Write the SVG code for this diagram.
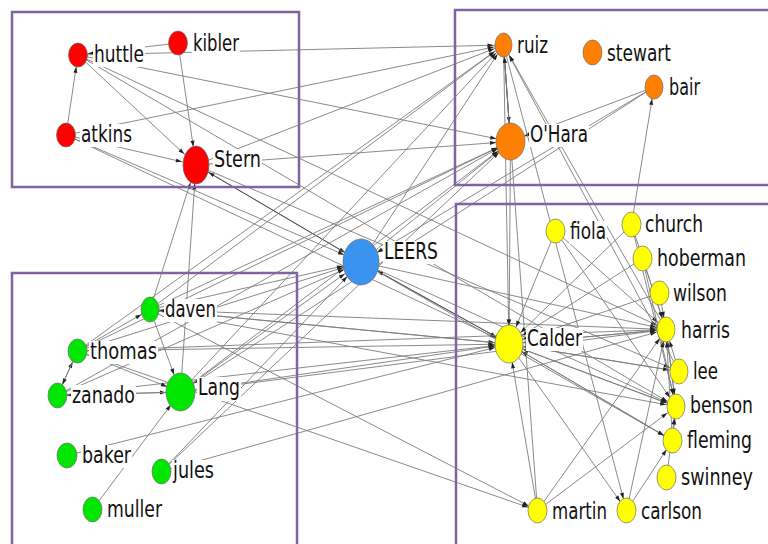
<svg xmlns="http://www.w3.org/2000/svg" width="768" height="544" viewBox="0 0 768 544">
<style>
.e line{stroke:#7d7d7d;stroke-width:0.9;fill:none}
.s1{marker-end:url(#s1)}.s2{marker-end:url(#s2)}.s3{marker-end:url(#s3)}
.m1{marker-end:url(#m1)}.m2{marker-end:url(#m2)}.m3{marker-end:url(#m3)}
.L1{marker-end:url(#L1)}.L2{marker-end:url(#L2)}
.box{fill:none;stroke:#8064A2;stroke-width:2.5}
.n ellipse{stroke:#6b6b6b;stroke-width:0.7}
.r ellipse{fill:#FF0000}.o ellipse{fill:#FF8000}.g ellipse{fill:#00E600}.y ellipse{fill:#FFFF00}.b ellipse{fill:#3B93F0}
.n rect{fill:#fff}
.n text{font-family:"DejaVu Sans","Liberation Sans",sans-serif;font-size:23px;fill:#111}
</style>
<defs>
<marker id="s1" markerUnits="userSpaceOnUse" markerWidth="6" markerHeight="6" refX="16" refY="3" orient="auto" overflow="visible"><path d="M0,1 L6,3 L0,5z" fill="#222"/></marker>
<marker id="s2" markerUnits="userSpaceOnUse" markerWidth="6" markerHeight="6" refX="17" refY="3" orient="auto" overflow="visible"><path d="M0,1 L6,3 L0,5z" fill="#222"/></marker>
<marker id="s3" markerUnits="userSpaceOnUse" markerWidth="6" markerHeight="6" refX="18" refY="3" orient="auto" overflow="visible"><path d="M0,1 L6,3 L0,5z" fill="#222"/></marker>
<marker id="m1" markerUnits="userSpaceOnUse" markerWidth="6" markerHeight="6" refX="20.5" refY="3" orient="auto" overflow="visible"><path d="M0,1 L6,3 L0,5z" fill="#222"/></marker>
<marker id="m2" markerUnits="userSpaceOnUse" markerWidth="6" markerHeight="6" refX="22" refY="3" orient="auto" overflow="visible"><path d="M0,1 L6,3 L0,5z" fill="#222"/></marker>
<marker id="m3" markerUnits="userSpaceOnUse" markerWidth="6" markerHeight="6" refX="24.5" refY="3" orient="auto" overflow="visible"><path d="M0,1 L6,3 L0,5z" fill="#222"/></marker>
<marker id="L1" markerUnits="userSpaceOnUse" markerWidth="6" markerHeight="6" refX="24.5" refY="3" orient="auto" overflow="visible"><path d="M0,1 L6,3 L0,5z" fill="#222"/></marker>
<marker id="L2" markerUnits="userSpaceOnUse" markerWidth="6" markerHeight="6" refX="26" refY="3" orient="auto" overflow="visible"><path d="M0,1 L6,3 L0,5z" fill="#222"/></marker>
</defs>
<rect width="768" height="544" fill="#fff"/>
<g id="connectors" class="e">
<line class="s1" x1="178" y1="43" x2="78" y2="55"/>
<line class="s1" x1="78" y1="55" x2="503.5" y2="45"/>
<line class="s3" x1="66" y1="135" x2="78" y2="55"/>
<line class="m3" x1="178" y1="43" x2="196" y2="165"/>
<line class="m1" x1="66" y1="135" x2="196" y2="165"/>
<line class="m2" x1="78" y1="55" x2="196" y2="165"/>
<line class="m1" x1="78" y1="55" x2="510.5" y2="141.5"/>
<line class="s1" x1="78" y1="55" x2="666" y2="329.5"/>
<line class="s1" x1="78" y1="55" x2="676" y2="406.5"/>
<line class="s1" x1="66" y1="135" x2="503.5" y2="45"/>
<line class="L1" x1="66" y1="135" x2="361" y2="262"/>
<line class="m1" x1="66" y1="135" x2="509" y2="344"/>
<line class="s1" x1="196" y1="165" x2="503.5" y2="45"/>
<line class="m1" x1="196" y1="165" x2="510.5" y2="141.5"/>
<line class="L1" x1="196" y1="165" x2="361" y2="262" style="stroke:#555"/>
<line class="m1" x1="361" y1="262" x2="196" y2="165" style="stroke:#555"/>
<line class="m3" x1="180.5" y1="392" x2="196" y2="165"/>
<line class="m3" x1="150" y1="309.5" x2="196" y2="165"/>
<line class="s1" x1="196" y1="165" x2="679" y2="371.5"/>
<line class="m3" x1="503.5" y1="45" x2="510.5" y2="141.5" style="stroke:#555"/>
<line class="s3" x1="510.5" y1="141.5" x2="503.5" y2="45" style="stroke:#555"/>
<line class="m1" x1="654" y1="87" x2="510.5" y2="141.5"/>
<line class="L1" x1="654" y1="87" x2="361" y2="262"/>
<line class="m2" x1="654" y1="87" x2="180.5" y2="392"/>
<line class="s3" x1="631.5" y1="224.5" x2="654" y2="87"/>
<line class="m3" x1="510.5" y1="141.5" x2="509" y2="344"/>
<line class="m3" x1="503.5" y1="45" x2="509" y2="344"/>
<line class="s3" x1="666" y1="329.5" x2="503.5" y2="45"/>
<line class="s3" x1="679" y1="371.5" x2="503.5" y2="45"/>
<line class="s3" x1="537.5" y1="510.5" x2="503.5" y2="45"/>
<line class="s3" x1="503.5" y1="45" x2="626.5" y2="510.5"/>
<line class="s2" x1="150" y1="309.5" x2="503.5" y2="45"/>
<line class="s2" x1="180.5" y1="392" x2="503.5" y2="45"/>
<line class="s2" x1="361" y1="262" x2="503.5" y2="45"/>
<line class="s2" x1="77.5" y1="351" x2="503.5" y2="45"/>
<line class="m1" x1="150" y1="309.5" x2="510.5" y2="141.5"/>
<line class="m1" x1="57.5" y1="395.5" x2="510.5" y2="141.5"/>
<line class="m2" x1="180.5" y1="392" x2="510.5" y2="141.5"/>
<line class="m2" x1="361" y1="262" x2="510.5" y2="141.5"/>
<line class="m1" x1="77.5" y1="351" x2="510.5" y2="141.5"/>
<line class="m2" x1="161.5" y1="471.5" x2="510.5" y2="141.5"/>
<line class="L1" x1="150" y1="309.5" x2="361" y2="262"/>
<line class="L1" x1="77.5" y1="351" x2="361" y2="262"/>
<line class="L1" x1="57.5" y1="395.5" x2="361" y2="262"/>
<line class="L2" x1="180.5" y1="392" x2="361" y2="262"/>
<line class="L2" x1="161.5" y1="471.5" x2="361" y2="262"/>
<line class="m1" x1="361" y1="262" x2="509" y2="344" style="stroke:#555"/>
<line class="L1" x1="509" y1="344" x2="361" y2="262" style="stroke:#555"/>
<line class="s1" x1="361" y1="262" x2="666" y2="329.5"/>
<line class="s1" x1="361" y1="262" x2="676" y2="406.5"/>
<line class="s1" x1="361" y1="262" x2="672.5" y2="440.5"/>
<line class="s1" x1="150" y1="309.5" x2="666" y2="329.5"/>
<line class="m1" x1="150" y1="309.5" x2="509" y2="344"/>
<line class="s1" x1="150" y1="309.5" x2="676" y2="406.5"/>
<line class="s1" x1="150" y1="309.5" x2="537.5" y2="510.5"/>
<line class="m1" x1="77.5" y1="351" x2="509" y2="344"/>
<line class="s1" x1="77.5" y1="351" x2="666" y2="329.5"/>
<line class="s1" x1="77.5" y1="351" x2="537.5" y2="510.5"/>
<line class="m1" x1="57.5" y1="395.5" x2="509" y2="344"/>
<line class="m1" x1="180.5" y1="392" x2="509" y2="344"/>
<line class="s1" x1="180.5" y1="392" x2="666" y2="329.5"/>
<line class="s1" x1="161.5" y1="471.5" x2="666" y2="329.5"/>
<line class="m1" x1="67" y1="455.5" x2="509" y2="344"/>
<line class="s1" x1="77.5" y1="351" x2="150" y2="309.5"/>
<line class="s3" x1="57.5" y1="395.5" x2="77.5" y2="351"/>
<line class="s3" x1="77.5" y1="351" x2="57.5" y2="395.5"/>
<line class="m1" x1="57.5" y1="395.5" x2="180.5" y2="392"/>
<line class="s1" x1="180.5" y1="392" x2="57.5" y2="395.5"/>
<line class="m3" x1="150" y1="309.5" x2="180.5" y2="392"/>
<line class="m2" x1="92.5" y1="509.5" x2="180.5" y2="392"/>
<line class="m1" x1="77.5" y1="351" x2="180.5" y2="392"/>
<line class="s1" x1="509" y1="344" x2="150" y2="309.5"/>
<line class="m3" x1="555.5" y1="231" x2="509" y2="344"/>
<line class="m2" x1="631.5" y1="224.5" x2="509" y2="344"/>
<line class="m2" x1="642.5" y1="258.5" x2="509" y2="344"/>
<line class="m1" x1="659.5" y1="293" x2="509" y2="344"/>
<line class="m1" x1="666" y1="329.5" x2="509" y2="344"/>
<line class="m1" x1="679" y1="371.5" x2="509" y2="344"/>
<line class="m1" x1="676" y1="406.5" x2="509" y2="344"/>
<line class="m1" x1="672.5" y1="440.5" x2="509" y2="344"/>
<line class="m3" x1="537.5" y1="510.5" x2="509" y2="344"/>
<line class="s1" x1="509" y1="344" x2="666" y2="329.5"/>
<line class="s1" x1="509" y1="344" x2="676" y2="406.5"/>
<line class="s1" x1="509" y1="344" x2="672.5" y2="440.5"/>
<line class="s1" x1="509" y1="344" x2="679" y2="371.5"/>
<line class="s2" x1="509" y1="344" x2="626.5" y2="510.5"/>
<line class="s2" x1="555.5" y1="231" x2="666" y2="329.5"/>
<line class="s2" x1="555.5" y1="231" x2="676" y2="406.5"/>
<line class="s3" x1="631.5" y1="224.5" x2="666" y2="329.5"/>
<line class="s3" x1="631.5" y1="224.5" x2="676" y2="406.5"/>
<line class="s3" x1="642.5" y1="258.5" x2="666" y2="329.5"/>
<line class="s3" x1="642.5" y1="258.5" x2="676" y2="406.5"/>
<line class="s3" x1="659.5" y1="293" x2="666" y2="329.5"/>
<line class="s3" x1="679" y1="371.5" x2="666" y2="329.5"/>
<line class="s3" x1="676" y1="406.5" x2="666" y2="329.5"/>
<line class="s3" x1="666" y1="329.5" x2="676" y2="406.5"/>
<line class="s3" x1="672.5" y1="440.5" x2="666" y2="329.5"/>
<line class="s3" x1="672.5" y1="440.5" x2="676" y2="406.5"/>
<line class="s3" x1="666.5" y1="477.5" x2="676" y2="406.5"/>
<line class="s3" x1="626.5" y1="510.5" x2="666" y2="329.5"/>
<line class="s2" x1="626.5" y1="510.5" x2="672.5" y2="440.5"/>
<line class="s2" x1="537.5" y1="510.5" x2="666" y2="329.5"/>
<line class="s2" x1="537.5" y1="510.5" x2="676" y2="406.5"/>
</g>
<g id="groups">
<rect class="box" x="12" y="12" width="287" height="175"/>
<rect class="box" x="455" y="10" width="320" height="175"/>
<rect class="box" x="12" y="273" width="285" height="290"/>
<rect class="box" x="456" y="204" width="320" height="360"/>
</g>
<g id="huttle" class="n r"><ellipse cx="78" cy="55" rx="9.5" ry="12"/><rect x="93" y="44" width="52" height="23"/><text transform="translate(94,62) scale(0.75,1)" textLength="66.7" lengthAdjust="spacingAndGlyphs">huttle</text></g>
<g id="kibler" class="n r"><ellipse cx="178" cy="43" rx="9.5" ry="12"/><rect x="192" y="33" width="48" height="23"/><text transform="translate(193,51) scale(0.75,1)" textLength="61.3" lengthAdjust="spacingAndGlyphs">kibler</text></g>
<g id="atkins" class="n r"><ellipse cx="66" cy="135" rx="9.5" ry="12"/><rect x="80" y="124" width="53" height="23"/><text transform="translate(81,142) scale(0.75,1)" textLength="68" lengthAdjust="spacingAndGlyphs">atkins</text></g>
<g id="Stern" class="n r"><ellipse cx="196" cy="165" rx="13" ry="19"/><rect x="213" y="149" width="49" height="23"/><text transform="translate(214,167) scale(0.75,1)" textLength="62.7" lengthAdjust="spacingAndGlyphs">Stern</text></g>
<g id="ruiz" class="n o"><ellipse cx="503.5" cy="45" rx="8.5" ry="12"/><rect x="516" y="35" width="33" height="23"/><text transform="translate(517,53) scale(0.75,1)" textLength="41.3" lengthAdjust="spacingAndGlyphs">ruiz</text></g>
<g id="stewart" class="n o"><ellipse cx="592.5" cy="52.5" rx="9.5" ry="12.5"/><rect x="606" y="43" width="66" height="23"/><text transform="translate(607,61) scale(0.75,1)" textLength="85.3" lengthAdjust="spacingAndGlyphs">stewart</text></g>
<g id="bair" class="n o"><ellipse cx="654" cy="87" rx="9" ry="12"/><rect x="668" y="77" width="33" height="23"/><text transform="translate(669,95) scale(0.75,1)" textLength="41.3" lengthAdjust="spacingAndGlyphs">bair</text></g>
<g id="OHara" class="n o"><ellipse cx="510.5" cy="141.5" rx="14.5" ry="18.5"/><rect x="529" y="124" width="60" height="23"/><text transform="translate(530,142) scale(0.75,1)" textLength="77.3" lengthAdjust="spacingAndGlyphs">O'Hara</text></g>
<g id="LEERS" class="n b"><ellipse cx="361" cy="262" rx="18" ry="23"/><rect x="383" y="241" width="56" height="23"/><text transform="translate(384,259) scale(0.75,1)" textLength="72" lengthAdjust="spacingAndGlyphs">LEERS</text></g>
<g id="daven" class="n g"><ellipse cx="150" cy="309.5" rx="9" ry="12.5"/><rect x="164" y="299" width="53" height="23"/><text transform="translate(165,317) scale(0.75,1)" textLength="68" lengthAdjust="spacingAndGlyphs">daven</text></g>
<g id="thomas" class="n g"><ellipse cx="77.5" cy="351" rx="9.5" ry="12"/><rect x="89" y="341" width="69" height="23"/><text transform="translate(90,359) scale(0.75,1)" textLength="89.3" lengthAdjust="spacingAndGlyphs">thomas</text></g>
<g id="zanado" class="n g"><ellipse cx="57.5" cy="395.5" rx="9.5" ry="12.5"/><rect x="71" y="385" width="65" height="23"/><text transform="translate(72,403) scale(0.75,1)" textLength="84" lengthAdjust="spacingAndGlyphs">zanado</text></g>
<g id="Lang" class="n g"><ellipse cx="180.5" cy="392" rx="14.5" ry="19"/><rect x="197" y="377" width="44" height="24"/><text transform="translate(198,395) scale(0.75,1)" textLength="56" lengthAdjust="spacingAndGlyphs">Lang</text></g>
<g id="baker" class="n g"><ellipse cx="67" cy="455.5" rx="10" ry="12.5"/><rect x="81" y="445" width="51" height="23"/><text transform="translate(82,463) scale(0.75,1)" textLength="65.3" lengthAdjust="spacingAndGlyphs">baker</text></g>
<g id="jules" class="n g"><ellipse cx="161.5" cy="471.5" rx="9.5" ry="12.5"/><rect x="172" y="460" width="43" height="24"/><text transform="translate(173,478) scale(0.75,1)" textLength="54.7" lengthAdjust="spacingAndGlyphs">jules</text></g>
<g id="muller" class="n g"><ellipse cx="92.5" cy="509.5" rx="9.5" ry="12.5"/><rect x="106" y="499" width="57" height="23"/><text transform="translate(107,517) scale(0.75,1)" textLength="73.3" lengthAdjust="spacingAndGlyphs">muller</text></g>
<g id="fiola" class="n y"><ellipse cx="555.5" cy="231" rx="9.5" ry="12"/><rect x="569" y="221" width="38" height="23"/><text transform="translate(570,239) scale(0.75,1)" textLength="48" lengthAdjust="spacingAndGlyphs">fiola</text></g>
<g id="church" class="n y"><ellipse cx="631.5" cy="224.5" rx="9.5" ry="12.5"/><rect x="644" y="214" width="60" height="23"/><text transform="translate(645,232) scale(0.75,1)" textLength="77.3" lengthAdjust="spacingAndGlyphs">church</text></g>
<g id="hoberman" class="n y"><ellipse cx="642.5" cy="258.5" rx="9.5" ry="12.5"/><rect x="656" y="248" width="91" height="23"/><text transform="translate(657,266) scale(0.75,1)" textLength="118.7" lengthAdjust="spacingAndGlyphs">hoberman</text></g>
<g id="wilson" class="n y"><ellipse cx="659.5" cy="293" rx="9.5" ry="12"/><rect x="672" y="283" width="56" height="23"/><text transform="translate(673,301) scale(0.75,1)" textLength="72" lengthAdjust="spacingAndGlyphs">wilson</text></g>
<g id="harris" class="n y"><ellipse cx="666" cy="329.5" rx="9" ry="12.5"/><rect x="680" y="320" width="51" height="23"/><text transform="translate(681,338) scale(0.75,1)" textLength="65.3" lengthAdjust="spacingAndGlyphs">harris</text></g>
<g id="Calder" class="n y"><ellipse cx="509" cy="344" rx="14" ry="19"/><rect x="526" y="328" width="57" height="23"/><text transform="translate(527,346) scale(0.75,1)" textLength="73.3" lengthAdjust="spacingAndGlyphs">Calder</text></g>
<g id="lee" class="n y"><ellipse cx="679" cy="371.5" rx="9" ry="12.5"/><rect x="692" y="361" width="27" height="23"/><text transform="translate(693,379) scale(0.75,1)" textLength="33.3" lengthAdjust="spacingAndGlyphs">lee</text></g>
<g id="benson" class="n y"><ellipse cx="676" cy="406.5" rx="9" ry="12.5"/><rect x="689" y="395" width="65" height="23"/><text transform="translate(690,413) scale(0.75,1)" textLength="84" lengthAdjust="spacingAndGlyphs">benson</text></g>
<g id="fleming" class="n y"><ellipse cx="672.5" cy="440.5" rx="9.5" ry="12.5"/><rect x="686" y="430" width="67" height="24"/><text transform="translate(687,448) scale(0.75,1)" textLength="86.7" lengthAdjust="spacingAndGlyphs">fleming</text></g>
<g id="swinney" class="n y"><ellipse cx="666.5" cy="477.5" rx="9.5" ry="12.5"/><rect x="680" y="467" width="74" height="24"/><text transform="translate(681,485) scale(0.75,1)" textLength="96" lengthAdjust="spacingAndGlyphs">swinney</text></g>
<g id="martin" class="n y"><ellipse cx="537.5" cy="510.5" rx="9.5" ry="12.5"/><rect x="551" y="501" width="57" height="23"/><text transform="translate(552,519) scale(0.75,1)" textLength="73.3" lengthAdjust="spacingAndGlyphs">martin</text></g>
<g id="carlson" class="n y"><ellipse cx="626.5" cy="510.5" rx="9.5" ry="12.5"/><rect x="640" y="501" width="63" height="23"/><text transform="translate(641,519) scale(0.75,1)" textLength="81.3" lengthAdjust="spacingAndGlyphs">carlson</text></g>
</svg>
